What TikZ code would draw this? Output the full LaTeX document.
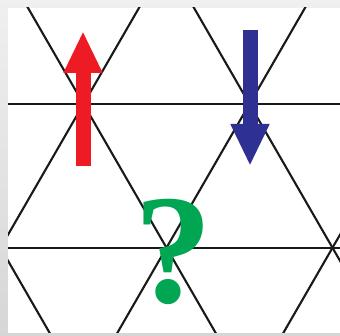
\documentclass[tikz,border=0pt]{standalone}
\usepackage{fontspec}
\setmainfont{Liberation Serif}
\usetikzlibrary{arrows.meta}
\definecolor{spinred}{RGB}{237,28,36}
\definecolor{spinblue}{RGB}{46,49,146}
\definecolor{qgreen}{RGB}{0,166,81}

\begin{document}
\begin{tikzpicture}[x=1pt,y=-1pt,
    bond/.style={line width=2.1pt,black!90},
    spin/.style={line width=15pt,-{Triangle[length=42pt,width=36pt]}},
    qmark/.style={text=qgreen,font=\fontsize{156}{156}\selectfont\bfseries,inner sep=0pt,anchor=base}]
  \useasboundingbox (0,0) rectangle (340,336);
  \shade[top color=gray!12,bottom color=gray!32] (0,0) rectangle (340,336);
  \fill[white] (8,8) rectangle (340,333);
  % triangular lattice
  \begin{scope}
    \clip (8,8) rectangle (340,333);
    \foreach \y in {104,247.8} \draw[bond] (8,\y) -- (340,\y);
    \foreach \k in {-2,...,3} {
      \draw[bond] (83.5+166*\k-100,104-173.2) -- ++(250,433);
      \draw[bond] (83.5+166*\k+100,104-173.2) -- ++(-250,433);
    }
  \end{scope}
  % spins
  \coordinate (upTail) at (83,166);
  \coordinate (upTip) at (83,31);
  \coordinate (downTail) at (250,30);
  \coordinate (downTip) at (250,166);
  \draw[spin,spinred] (upTail) -- (upTip);
  \draw[spin,spinblue] (downTail) -- (downTip);
  \node[qmark] (q) at (173,303) {?};
\end{tikzpicture}
\end{document}
